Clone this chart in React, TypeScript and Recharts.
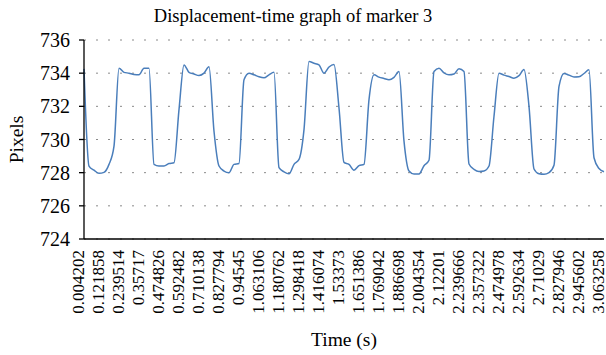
import React from 'react';
import { LineChart, Line, XAxis, YAxis, CartesianGrid } from 'recharts';

// x-axis labels: every 4th frame time (s)
const TIME_TICKS = [
  0.004202, 0.121858, 0.239514, 0.35717, 0.474826, 0.592482, 0.710138, 0.827794, 0.94545,
  1.063106, 1.180762, 1.298418, 1.416074, 1.53373, 1.651386, 1.769042, 1.886698, 2.004354,
  2.12201, 2.239666, 2.357322, 2.474978, 2.592634, 2.71029, 2.827946, 2.945602, 3.063258,
];
const FRAMES_PER_TICK = 4;

const PIXEL_TICKS = [724, 726, 728, 730, 732, 734, 736];

// marker 3 position, one value per frame
const MARKER3_PIXELS = [
  734.26, 728.4, 728.15, 727.96, 728.02, 728.5, 729.6, 734.3, 734.05, 734.0,
  733.92, 733.9, 734.3, 734.3, 728.5, 728.4, 728.4, 728.55, 728.6, 731.8,
  734.5, 734.05, 733.95, 733.86, 734.0, 734.38, 730.5, 728.4, 728.1, 728.0,
  728.5, 728.55, 733.6, 734.0, 733.9, 733.78, 733.72, 733.9, 734.05, 728.3,
  728.05, 727.93, 728.5, 728.8, 730.6, 734.7, 734.6, 734.5, 734.0, 734.37,
  734.52, 731.9, 728.62, 728.5, 728.15, 728.42, 728.5, 732.4, 733.9, 733.76,
  733.68, 733.6, 733.75, 734.1, 729.9, 728.1, 727.92, 727.92, 728.42, 728.75,
  734.1, 734.3, 734.02, 733.9, 733.95, 734.27, 734.1, 728.52, 728.2, 728.07,
  728.1, 728.4, 731.4, 734.0, 733.88, 733.8, 733.7, 733.85, 734.22, 732.0,
  728.22, 727.93, 727.9, 728.0, 728.45, 733.2, 733.98, 733.88, 733.77, 733.78,
  733.98, 734.2, 728.9, 728.25, 728.06,
];

const FONT = '"Liberation Serif", "Times New Roman", serif';

const frameStep = (TIME_TICKS[1] - TIME_TICKS[0]) / FRAMES_PER_TICK;
const data = MARKER3_PIXELS.map((px, i) => ({
  t: TIME_TICKS[0] + i * frameStep,
  px,
}));

function fmtTime(v: number) {
  return String(Number(v.toFixed(6)));
}

// eslint-disable-next-line @typescript-eslint/no-explicit-any
function TimeTick({ x, y, payload }: any) {
  const tx = x - 5.5;
  return (
    <text
      x={tx}
      y={y}
      dy="0.35em"
      transform={`rotate(-90 ${tx} ${y})`}
      textAnchor="end"
      fontSize={17}
      style={{ fontFamily: FONT }}
      fill="#000"
    >
      {fmtTime(payload.value)}
    </text>
  );
}

// eslint-disable-next-line @typescript-eslint/no-explicit-any
function PixelTick({ x, y, payload }: any) {
  return (
    <text x={x} y={y} dy="0.35em" textAnchor="end" fontSize={20} style={{ fontFamily: FONT }} fill="#000">
      {payload.value}
    </text>
  );
}

export default function App() {
  return (
    <div
      style={{
        position: 'absolute',
        left: 0,
        top: 0,
        width: 606,
        height: 355,
        background: '#fff',
        fontFamily: FONT,
      }}
    >
      <div
        style={{
          position: 'absolute',
          left: 0,
          top: 5,
          width: 586,
          textAlign: 'center',
          fontSize: 18.5,
          lineHeight: '22px',
          color: '#000',
        }}
      >
        Displacement-time graph of marker 3
      </div>
      <LineChart width={606} height={355} data={data} margin={{ top: 40, right: 2, bottom: 0, left: 0 }}>
        <CartesianGrid vertical={false} strokeDasharray="2 10" stroke="#8a8a8a" />
        <XAxis
          type="number"
          dataKey="t"
          domain={[TIME_TICKS[0], TIME_TICKS[TIME_TICKS.length - 1]]}
          ticks={TIME_TICKS}
          interval={0}
          height={116}
          tick={<TimeTick />}
          tickLine={false}
          tickSize={6}
          tickMargin={5}
          axisLine={{ stroke: '#000', strokeWidth: 1.3 }}
          label={{ value: 'Time (s)', position: 'insideBottom', offset: 9, fontSize: 19.5, fill: '#000', style: { fontFamily: FONT } }}
        />
        <YAxis
          domain={[724, 736]}
          ticks={PIXEL_TICKS}
          width={84}
          tickSize={5}
          tickMargin={9}
          tick={<PixelTick />}
          tickLine={{ stroke: '#000', strokeWidth: 1.3 }}
          axisLine={{ stroke: '#000', strokeWidth: 1.3 }}
          label={{
            value: 'Pixels',
            angle: -90,
            position: 'insideLeft',
            offset: 16,
            fontSize: 19.5,
            fill: '#000',
            style: { textAnchor: 'middle', fontFamily: FONT },
          }}
        />
        <Line
          type="monotone"
          dataKey="px"
          stroke="#4a7ebb"
          strokeWidth={1.5}
          dot={false}
          isAnimationActive={false}
        />
      </LineChart>
    </div>
  );
}
